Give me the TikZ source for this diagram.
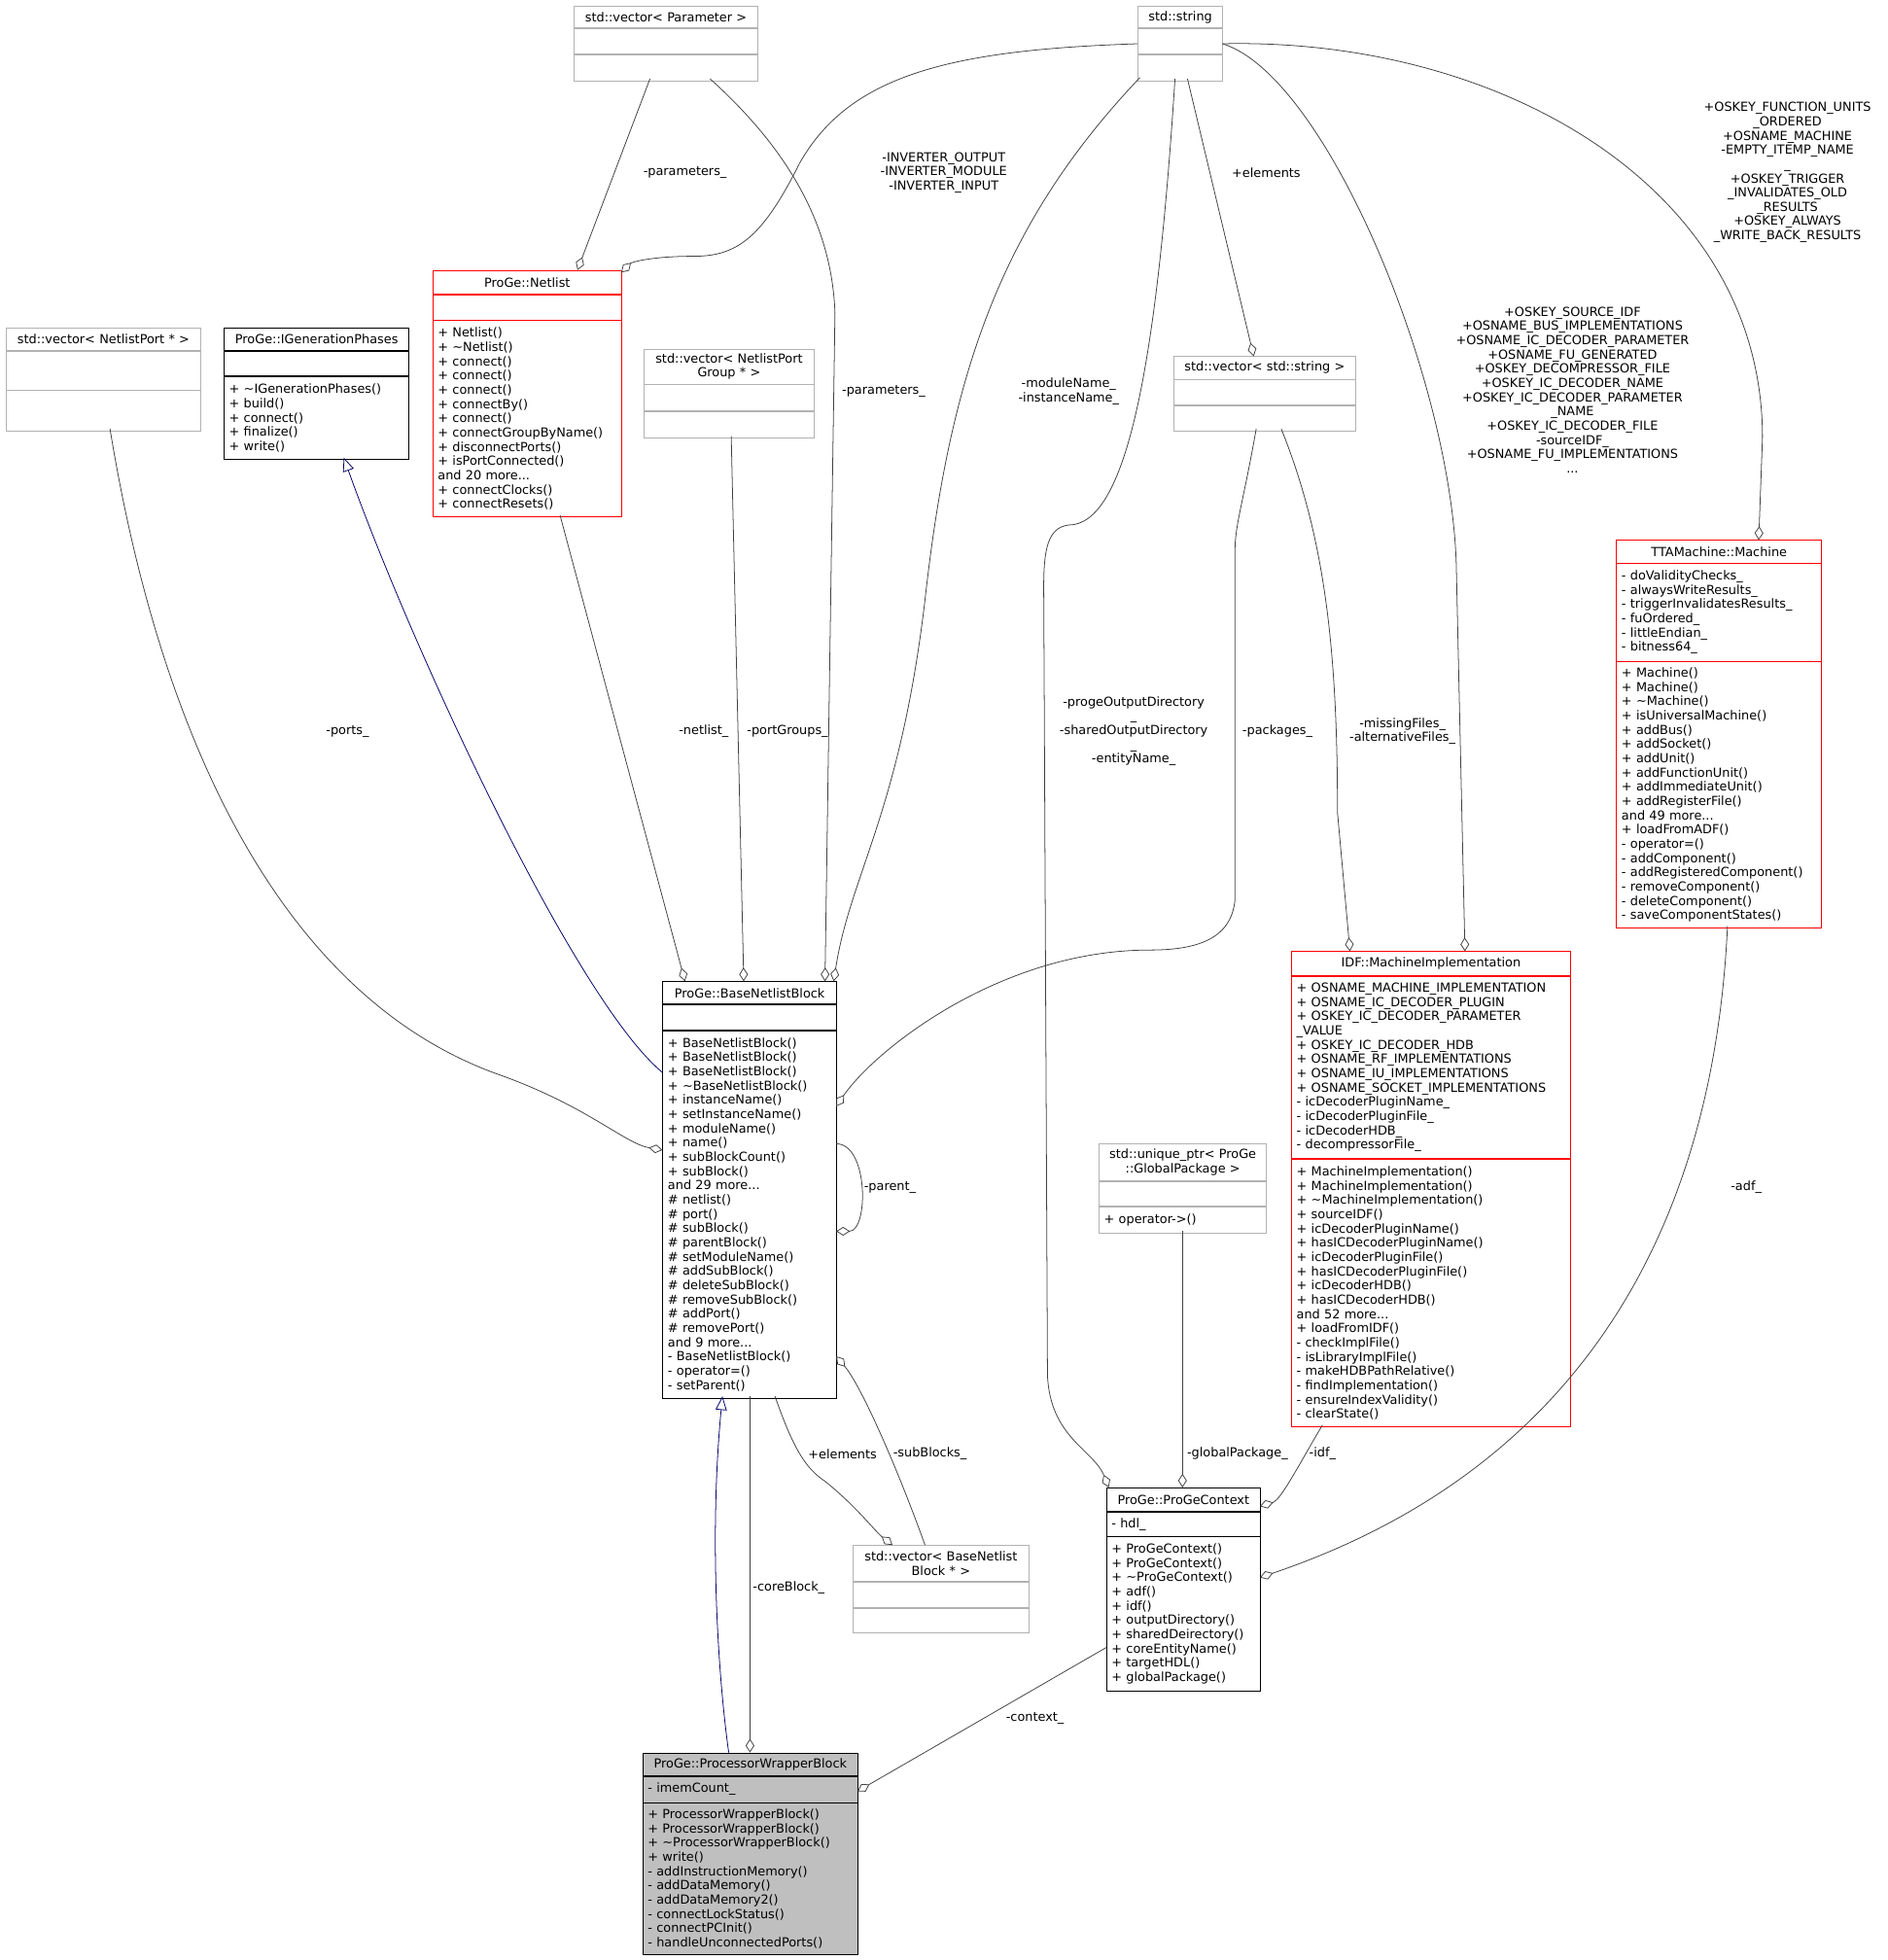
\documentclass[tikz,border=0pt]{standalone}
\usepackage{fontspec}
\setmainfont{DejaVu Sans}
\usetikzlibrary{arrows.meta,calc}
\newcommand{\cnw}[3]{($(#1.north west)+(#2,#3)$)}
% one part of a class box: name, colour, width, text width, height, alignment, position, text
\newcommand{\cpart}[8]{\node[cls,draw=#2,minimum width=#3pt,text width=#4pt,minimum height=#5pt,align=#6] (#1) at #7 {#8};}
\tikzset{
  cls/.style={anchor=north west, inner xsep=4pt, inner ysep=1pt, line width=0.6pt, font=\fontsize{10}{11.4}\selectfont},
  lbl/.style={align=center, font=\fontsize{10}{11.4}\selectfont, inner sep=1pt},
  link/.style={draw=black!75, line width=0.6pt},
  has/.style={link, -{Diamond[open,length=11pt,width=7pt]}},
  isa/.style={draw=blue!40!black, line width=0.6pt, -{Triangle[open,length=11pt,width=9pt]}}
}
\colorlet{grayb}{black!30}
\begin{document}
\begin{tikzpicture}[x=1pt,y=-1pt]
\useasboundingbox (0,0) rectangle (1510,1568);

% classes
\cpart{vparam}{grayb}{147}{139}{17}{center}{(459,5)}{std::vector< Parameter >}
\cpart{vparamA}{grayb}{147}{139}{20}{left}{(vparam.south west)}{}
\cpart{vparamM}{grayb}{147}{139}{21}{left}{(vparamA.south west)}{}

\cpart{str}{grayb}{68}{60}{17}{center}{(910,5)}{std::string}
\cpart{strA}{grayb}{68}{60}{20}{left}{(str.south west)}{}
\cpart{strM}{grayb}{68}{60}{21}{left}{(strA.south west)}{}

\cpart{vport}{grayb}{155}{147}{18}{center}{(5,262)}{std::vector< NetlistPort * >}
\cpart{vportA}{grayb}{155}{147}{31}{left}{(vport.south west)}{}
\cpart{vportM}{grayb}{155}{147}{32}{left}{(vportA.south west)}{}

\cpart{igen}{black}{148}{140}{18}{center}{(179,262)}{ProGe::IGenerationPhases}
\cpart{igenA}{black}{148}{140}{20}{left}{(igen.south west)}{}
\cpart{igenM}{black}{148}{140}{66}{left}{(igenA.south west)}{+ \textasciitilde IGenerationPhases()\\+ build()\\+ connect()\\+ finalize()\\+ write()}

\cpart{netlist}{red}{151}{143}{19}{center}{(346,216)}{ProGe::Netlist}
\cpart{netlistA}{red}{151}{143}{20}{left}{(netlist.south west)}{}
\cpart{netlistM}{red}{151}{143}{157}{left}{(netlistA.south west)}{+ Netlist()\\+ \textasciitilde Netlist()\\+ connect()\\+ connect()\\+ connect()\\+ connectBy()\\+ connect()\\+ connectGroupByName()\\+ disconnectPorts()\\+ isPortConnected()\\and 20 more...\\+ connectClocks()\\+ connectResets()}

\cpart{vpg}{grayb}{136}{128}{28}{center}{(515,279)}{std::vector< NetlistPort\\Group * >}
\cpart{vpgA}{grayb}{136}{128}{21}{left}{(vpg.south west)}{}
\cpart{vpgM}{grayb}{136}{128}{21}{left}{(vpgA.south west)}{}

\cpart{vss}{grayb}{145}{137}{18}{center}{(939,285)}{std::vector< std::string >}
\cpart{vssA}{grayb}{145}{137}{20}{left}{(vss.south west)}{}
\cpart{vssM}{grayb}{145}{137}{20}{left}{(vssA.south west)}{}

\cpart{mach}{red}{164}{156}{18}{center}{(1293,432)}{TTAMachine::Machine}
\cpart{machA}{red}{164}{156}{78}{left}{(mach.south west)}{- doValidityChecks\_\\- alwaysWriteResults\_\\- triggerInvalidatesResults\_\\- fuOrdered\_\\- littleEndian\_\\- bitness64\_}
\cpart{machM}{red}{164}{156}{213}{left}{(machA.south west)}{+ Machine()\\+ Machine()\\+ \textasciitilde Machine()\\+ isUniversalMachine()\\+ addBus()\\+ addSocket()\\+ addUnit()\\+ addFunctionUnit()\\+ addImmediateUnit()\\+ addRegisterFile()\\and 49 more...\\+ loadFromADF()\\- operator=()\\- addComponent()\\- addRegisteredComponent()\\- removeComponent()\\- deleteComponent()\\- saveComponentStates()}

\cpart{bnb}{black}{139}{131}{18}{center}{(530,785)}{ProGe::BaseNetlistBlock}
\cpart{bnbA}{black}{139}{131}{20}{left}{(bnb.south west)}{}
\cpart{bnbM}{black}{139}{131}{294}{left}{(bnbA.south west)}{+ BaseNetlistBlock()\\+ BaseNetlistBlock()\\+ BaseNetlistBlock()\\+ \textasciitilde BaseNetlistBlock()\\+ instanceName()\\+ setInstanceName()\\+ moduleName()\\+ name()\\+ subBlockCount()\\+ subBlock()\\and 29 more...\\\# netlist()\\\# port()\\\# subBlock()\\\# parentBlock()\\\# setModuleName()\\\# addSubBlock()\\\# deleteSubBlock()\\\# removeSubBlock()\\\# addPort()\\\# removePort()\\and 9 more...\\- BaseNetlistBlock()\\- operator=()\\- setParent()}

\cpart{mi}{red}{223}{215}{19}{center}{(1033,761)}{IDF::MachineImplementation}
\cpart{miA}{red}{223}{215}{146}{left}{(mi.south west)}{+ OSNAME\_MACHINE\_IMPLEMENTATION\\+ OSNAME\_IC\_DECODER\_PLUGIN\\+ OSKEY\_IC\_DECODER\_PARAMETER\\\_VALUE\\+ OSKEY\_IC\_DECODER\_HDB\\+ OSNAME\_RF\_IMPLEMENTATIONS\\+ OSNAME\_IU\_IMPLEMENTATIONS\\+ OSNAME\_SOCKET\_IMPLEMENTATIONS\\- icDecoderPluginName\_\\- icDecoderPluginFile\_\\- icDecoderHDB\_\\- decompressorFile\_}
\cpart{miM}{red}{223}{215}{214}{left}{(miA.south west)}{+ MachineImplementation()\\+ MachineImplementation()\\+ \textasciitilde MachineImplementation()\\+ sourceIDF()\\+ icDecoderPluginName()\\+ hasICDecoderPluginName()\\+ icDecoderPluginFile()\\+ hasICDecoderPluginFile()\\+ icDecoderHDB()\\+ hasICDecoderHDB()\\and 52 more...\\+ loadFromIDF()\\- checkImplFile()\\- isLibraryImplFile()\\- makeHDBPathRelative()\\- findImplementation()\\- ensureIndexValidity()\\- clearState()}

\cpart{uptr}{grayb}{134}{126}{29}{center}{(879,915)}{std::unique\_ptr< ProGe\\::GlobalPackage >}
\cpart{uptrA}{grayb}{134}{126}{20}{left}{(uptr.south west)}{}
\cpart{uptrM}{grayb}{134}{126}{21}{left}{(uptrA.south west)}{+ operator->()}

\cpart{pgc}{black}{123}{115}{19}{center}{(885,1190)}{ProGe::ProGeContext}
\cpart{pgcA}{black}{123}{115}{19}{left}{(pgc.south west)}{- hdl\_}
\cpart{pgcM}{black}{123}{115}{123}{left}{(pgcA.south west)}{+ ProGeContext()\\+ ProGeContext()\\+ \textasciitilde ProGeContext()\\+ adf()\\+ idf()\\+ outputDirectory()\\+ sharedDeirectory()\\+ coreEntityName()\\+ targetHDL()\\+ globalPackage()}

\cpart{vbnb}{grayb}{141}{133}{29}{center}{(682,1236)}{std::vector< BaseNetlist\\Block * >}
\cpart{vbnbA}{grayb}{141}{133}{20}{left}{(vbnb.south west)}{}
\cpart{vbnbM}{grayb}{141}{133}{20}{left}{(vbnbA.south west)}{}

\tikzset{cls/.append style={fill=black!25}}
\cpart{pwb}{black}{172}{164}{18}{center}{(514,1402)}{ProGe::ProcessorWrapperBlock}
\cpart{pwbA}{black}{172}{164}{21}{left}{(pwb.south west)}{- imemCount\_}
\cpart{pwbM}{black}{172}{164}{121}{left}{(pwbA.south west)}{+ ProcessorWrapperBlock()\\+ ProcessorWrapperBlock()\\+ \textasciitilde ProcessorWrapperBlock()\\+ write()\\- addInstructionMemory()\\- addDataMemory()\\- addDataMemory2()\\- connectLockStatus()\\- connectPCInit()\\- handleUnconnectedPorts()}

% connectors
\draw[has] \cnw{vparam}{61}{58} -- \cnw{netlist}{116}{0};
\draw[has] \cnw{vparam}{109}{58} .. controls (620,110) and (665,170) .. (668,250) -- \cnw{bnb}{130}{0};
\draw[has] \cnw{str}{0}{30} .. controls (760,40) and (680,60) .. (640,130) .. controls (610,190) and (590,205) .. (555,205) .. controls (520,205) and (505,210) .. \cnw{netlist}{151}{2};
\draw[has] \cnw{str}{2}{57} .. controls (800,180) and (760,300) .. (740,480) .. controls (720,650) and (680,700) .. \cnw{bnb}{137}{0};
\draw[has] \cnw{str}{30}{58} .. controls (925,300) and (900,420) .. (855,420) .. controls (838,422) and (835,440) .. (835,470) -- (838,1100) .. controls (840,1150) and (875,1160) .. \cnw{pgc}{2}{0};
\draw[has] \cnw{str}{40}{58} -- \cnw{vss}{64}{0};
\draw[has] \cnw{str}{68}{30} .. controls (1060,60) and (1160,300) .. (1165,450) -- \cnw{mi}{139}{0};
\draw[has] \cnw{str}{68}{30} .. controls (1200,30) and (1410,150) .. (1410,350) -- \cnw{mach}{114}{0};
\draw[has] \cnw{vport}{83}{81} .. controls (130,600) and (230,800) .. (400,860) .. controls (470,885) and (500,915) .. \cnw{bnb}{0}{135};
\draw[isa] \cnw{bnb}{0}{73} .. controls (460,800) and (330,520) .. \cnw{igen}{96}{104};
\draw[has] \cnw{netlist}{102}{196} -- \cnw{bnb}{18}{0};
\draw[has] \cnw{vpg}{70}{70} -- \cnw{bnb}{65}{0};
\draw[has] \cnw{vss}{66}{58} .. controls (995,400) and (988,420) .. (988,440) -- (988,720) .. controls (985,750) and (960,760) .. (920,760) .. controls (800,760) and (700,840) .. \cnw{bnb}{139}{100};
\draw[has] \cnw{vss}{86}{58} .. controls (1060,430) and (1070,520) .. (1070,650) -- \cnw{mi}{47}{0};
\draw[has] \cnw{bnb}{139}{130} .. controls (695,130+785) and (695,200+785) .. \cnw{bnb}{139}{200};
\draw[has] \cnw{bnb}{90}{332} .. controls (635,1160) and (645,1175) .. (660,1185) .. controls (685,1205) and (700,1225) .. \cnw{vbnb}{32}{0};
\draw[has] \cnw{vbnb}{58}{0} .. controls (720,1180) and (690,1110) .. \cnw{bnb}{139}{300};
\draw[has] \cnw{bnb}{70}{332} -- \cnw{pwb}{86}{0};
\draw[isa] \cnw{pwb}{69}{0} .. controls (573,1330) and (568,1220) .. \cnw{bnb}{48}{332};
\draw[has] \cnw{pgc}{0}{128} -- \cnw{pwb}{172}{31};
\draw[has] \cnw{uptr}{67}{70} -- \cnw{pgc}{61}{0};
\draw[has] \cnw{mi}{25}{379} .. controls (1040,1170) and (1025,1200) .. \cnw{pgc}{123}{15};
\draw[has] \cnw{mach}{89}{309} .. controls (1370,1000) and (1250,1180) .. \cnw{pgc}{123}{72};

% labels
\node[lbl] (lparam) at (548,138) {-parameters\_};
\node[lbl] (lparam2) at (707,313) {-parameters\_};
\node[lbl] (linv) at (755,138) {-INVERTER\_OUTPUT\\-INVERTER\_MODULE\\-INVERTER\_INPUT};
\node[lbl] (lmod) at (855,313) {-moduleName\_\\-instanceName\_};
\node[lbl] (ldir) at (907,585) {-progeOutputDirectory\\\_\\-sharedOutputDirectory\\\_\\-entityName\_};
\node[lbl] (lelem) at (1013,138) {+elements};
\node[lbl] (lidf) at (1258,312) {+OSKEY\_SOURCE\_IDF\\+OSNAME\_BUS\_IMPLEMENTATIONS\\+OSNAME\_IC\_DECODER\_PARAMETER\\+OSNAME\_FU\_GENERATED\\+OSKEY\_DECOMPRESSOR\_FILE\\+OSKEY\_IC\_DECODER\_NAME\\+OSKEY\_IC\_DECODER\_PARAMETER\\\_NAME\\+OSKEY\_IC\_DECODER\_FILE\\-sourceIDF\_\\+OSNAME\_FU\_IMPLEMENTATIONS\\...};
\node[lbl] (ladf) at (1430,138) {+OSKEY\_FUNCTION\_UNITS\\\_ORDERED\\+OSNAME\_MACHINE\\-EMPTY\_ITEMP\_NAME\\\_\\+OSKEY\_TRIGGER\\\_INVALIDATES\_OLD\\\_RESULTS\\+OSKEY\_ALWAYS\\\_WRITE\_BACK\_RESULTS};
\node[lbl] (lports) at (278,585) {-ports\_};
\node[lbl] (lnet) at (563,585) {-netlist\_};
\node[lbl] (lpg) at (630,585) {-portGroups\_};
\node[lbl] (lpack) at (1022,585) {-packages\_};
\node[lbl] (lmiss) at (1122,585) {-missingFiles\_\\-alternativeFiles\_};
\node[lbl] (lparent) at (712,950) {-parent\_};
\node[lbl] (lelem2) at (674,1163) {+elements};
\node[lbl] (lsub) at (744,1163) {-subBlocks\_};
\node[lbl] (lcore) at (631,1270) {-coreBlock\_};
\node[lbl] (lctx) at (828,1375) {-context\_};
\node[lbl] (lglob) at (990,1163) {-globalPackage\_};
\node[lbl] (lidf2) at (1058,1163) {-idf\_};
\node[lbl] (ladf2) at (1397,950) {-adf\_};
\end{tikzpicture}
\end{document}
